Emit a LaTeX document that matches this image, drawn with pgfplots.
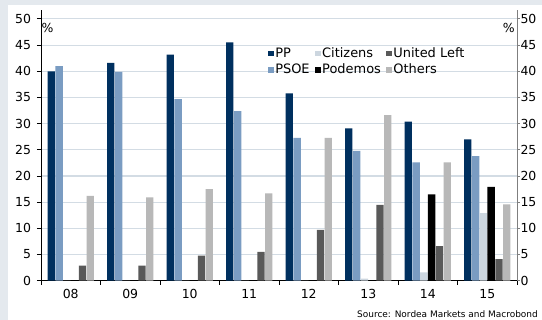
\documentclass[border=0pt]{standalone}
\usepackage{fontspec}
\setmainfont{DejaVu Sans}
\usepackage{pgfplots}
\pgfplotsset{compat=1.18}
\definecolor{bg}{HTML}{E4E9EE}
\definecolor{cPP}{HTML}{00305F}
\definecolor{cPSOE}{HTML}{7A9CC2}
\definecolor{cCit}{HTML}{CCD6DF}
\definecolor{cPod}{HTML}{000000}
\definecolor{cUL}{HTML}{595959}
\definecolor{cOth}{HTML}{B8B8B8}
\definecolor{gridc}{HTML}{D3DCE4}
\definecolor{raxis}{HTML}{7F7F7F}

\begin{document}
\begin{tikzpicture}
\fill[bg] (-41bp,-39.3bp) rectangle (501bp,280.7bp);
\fill[white] (-33bp,-39.3bp) rectangle (501bp,275.7bp);
\begin{axis}[
  at={(0,0)}, anchor=south west, scale only axis,
  width=476bp, height=270.7bp,
  xmin=-0.5, xmax=7.5, ymin=0, ymax=51.7,
  ybar, bar width=7.4bp,
  axis x line*=bottom, axis y line*=left,
  axis line style={black, line width=0.8bp},
  xtick={0,...,7}, xticklabels={08,09,10,11,12,13,14,15},
  major x tick style={draw=none},
  minor xtick={-0.5,0.5,...,7.5},
  minor tick length=4bp, major tick length=4bp, tick align=outside,
  ytick={0,5,...,50},
  ymajorgrids, grid style={gridc, line width=1.1bp},
  tick style={black, line width=0.8bp},
  ticklabel style={font=\fontsize{12.5}{14}\selectfont},
  /pgf/number format/assume math mode=true,
  xticklabel style={yshift=-1.5bp},
  yticklabel style={xshift=-2.5bp},
  legend image code/.code={\fill[#1, draw=none] (0bp,-2.8bp) rectangle (5.5bp,2.8bp);},
  legend columns=3, legend cell align=left,
  legend style={at={(rel axis cs:0.477,0.865)}, anchor=north west,
    draw=none, fill=none, inner sep=0pt, row sep=3bp,
    font=\fontsize{13}{15}\selectfont,
    nodes={inner xsep=1.5bp, inner ysep=1bp},
    /tikz/every even column/.append style={column sep=4bp}},
]
\addplot[fill=cPP, draw=none, forget plot, bar shift=-19.5bp] coordinates {(0,40.0) (1,41.6) (2,43.2) (3,45.5) (4,35.8) (5,29.1) (6,30.4) (7,27.0)};
\addplot[fill=cPSOE, draw=none, forget plot, bar shift=-11.7bp] coordinates {(0,41.0) (1,39.9) (2,34.7) (3,32.4) (4,27.3) (5,24.8) (6,22.6) (7,23.8)};
\addplot[fill=cCit, draw=none, forget plot, bar shift=-3.9bp] coordinates {(0,0) (1,0) (2,0) (3,0) (4,0) (5,0.4) (6,1.6) (7,12.9)};
\addplot[fill=cPod, draw=none, forget plot, bar shift=3.9bp] coordinates {(0,0) (1,0) (2,0) (3,0) (4,0) (5,0) (6,16.5) (7,17.9)};
\addplot[fill=cUL, draw=none, forget plot, bar shift=11.7bp] coordinates {(0,2.9) (1,2.9) (2,4.8) (3,5.5) (4,9.7) (5,14.5) (6,6.6) (7,4.1)};
\addplot[fill=cOth, draw=none, forget plot, bar shift=19.5bp] coordinates {(0,16.2) (1,15.9) (2,17.5) (3,16.7) (4,27.3) (5,31.6) (6,22.6) (7,14.6)};
\addlegendimage{fill=cPP, draw=none}\addlegendentry{PP}
\addlegendimage{fill=cCit, draw=none}\addlegendentry{Citizens}
\addlegendimage{fill=cUL, draw=none}\addlegendentry{United Left}
\addlegendimage{fill=cPSOE, draw=none}\addlegendentry{PSOE}
\addlegendimage{fill=cPod, draw=none}\addlegendentry{Podemos}
\addlegendimage{fill=cOth, draw=none}\addlegendentry{Others}
\node[anchor=west, inner sep=0.5bp, font=\fontsize{12.5}{14}\selectfont] at (axis cs:-0.5,48.3) {\%};
\node[anchor=east, inner sep=2bp, font=\fontsize{12.5}{14}\selectfont] at (axis cs:7.5,48.3) {\%};
\end{axis}
\begin{axis}[
  at={(0,0)}, anchor=south west, scale only axis,
  width=476bp, height=270.7bp,
  xmin=-0.5, xmax=7.5, ymin=0, ymax=51.7,
  axis y line*=right, axis x line=none,
  axis line style={raxis, line width=0.8bp},
  ytick={0,5,...,50}, tick align=outside, major tick length=3bp,
  tick style={raxis, line width=0.8bp},
  ticklabel style={font=\fontsize{12.5}{14}\selectfont},
  yticklabel style={xshift=-3bp},
  /pgf/number format/assume math mode=true,
]
\end{axis}
\node[anchor=east, inner sep=0pt, font=\fontsize{9}{10}\selectfont] at (497bp,-33.3bp) {Source: Nordea Markets and Macrobond};
\end{tikzpicture}
\end{document}
